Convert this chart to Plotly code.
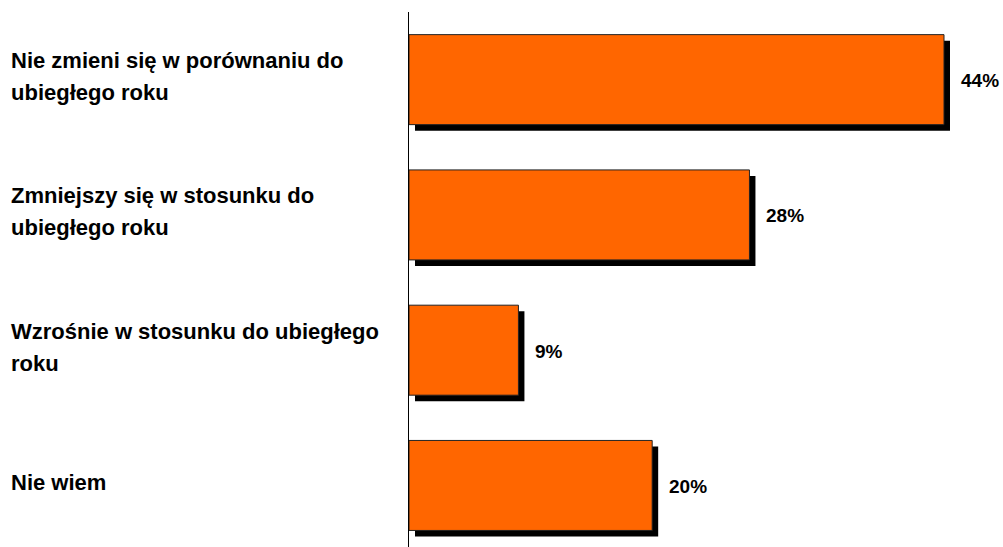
import plotly.graph_objects as go

categories = [
    "Nie zmieni się w porównaniu do<br>ubiegłego roku",
    "Zmniejszy się w stosunku do<br>ubiegłego roku",
    "Wzrośnie w stosunku do ubiegłego<br>roku",
    "Nie wiem",
]
values = [44, 28, 9, 20]
value_labels = ["44%", "28%", "9%", "20%"]

FONT = "Liberation Sans, Arial, sans-serif"
ORANGE = "#FF6600"

W, H = 1003, 547
ML, MR, MT, MB = 409, 0, 12, 0
plot_w = W - ML - MR
px_per_unit = 535 / 44.0
x_max = plot_w / px_per_unit
y_range = [3.455, -0.5]
px_per_cat = (H - MT - MB) / (y_range[0] - y_range[1])

bar_w = 90 / px_per_cat
shadow_px = 6
dx = shadow_px / px_per_unit
dy = shadow_px / px_per_cat

fig = go.Figure()
# shadow
fig.add_trace(go.Bar(
    y=categories, x=values, orientation="h",
    base=[dx] * len(values),
    width=[bar_w] * len(values),
    offset=-bar_w / 2 + dy,
    marker=dict(color="#000000", line=dict(width=0)),
    hoverinfo="skip", showlegend=False,
))
# main bars
fig.add_trace(go.Bar(
    y=categories, x=values, orientation="h",
    width=[bar_w] * len(values),
    marker=dict(color=ORANGE, line=dict(color="#222222", width=1)),
    hoverinfo="skip", showlegend=False,
))

LINE_GAP = 32
annotations = []
for c, v, t in zip(categories, values, value_labels):
    annotations.append(dict(
        x=v, y=c, xref="x", yref="y", text="<b>" + t + "</b>", showarrow=False,
        xanchor="left", yanchor="middle", xshift=15, yshift=-1,
        font=dict(family=FONT, size=19, color="#000000"),
    ))
    lines = c.split("<br>")
    n = len(lines)
    for i, ln in enumerate(lines):
        annotations.append(dict(
            x=(9 - ML) / plot_w, y=c, xref="paper", yref="y",
            text="<b>" + ln + "</b>",
            showarrow=False, xanchor="left", yanchor="middle", align="left",
            yshift=3 + ((n - 1) / 2.0 - i) * LINE_GAP,
            font=dict(family=FONT, size=22, color="#000000"),
        ))

fig.update_layout(
    width=W, height=H,
    margin=dict(l=ML, r=MR, t=MT, b=MB, pad=0),
    paper_bgcolor="white", plot_bgcolor="white",
    barmode="overlay",
    xaxis=dict(range=[0, x_max], visible=False, fixedrange=True),
    yaxis=dict(type="category", categoryorder="array", categoryarray=categories,
               range=y_range, showticklabels=False, ticks="",
               showgrid=False, zeroline=False,
               showline=True, linecolor="#000000", linewidth=1),
    annotations=annotations,
    font=dict(family=FONT),
)

fig.write_html("out.html")
